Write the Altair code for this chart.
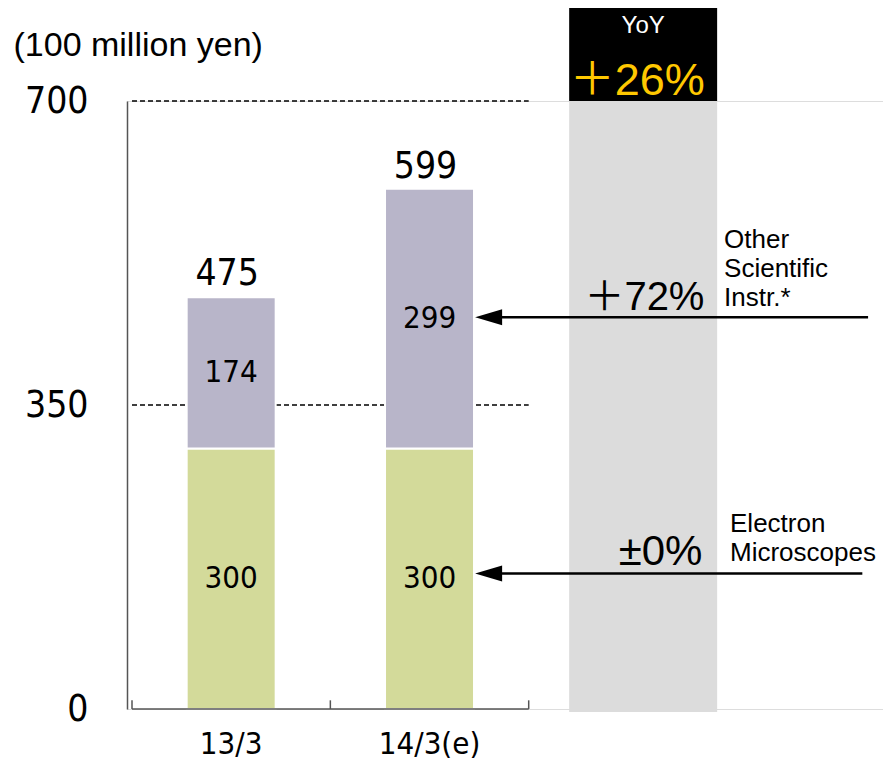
import altair as alt
import pandas as pd

# ---------------- data ----------------
categories = ["13/3", "14/3(e)"]
cat_pos = [0.5, 1.5]
electron = [300, 300]
other = [174, 299]
totals = [475, 599]
y_ticks = [0, 350, 700]
grid_values = [350, 700]
segment_names = ["Electron Microscopes", "Other Scientific Instr."]
segment_colors = ["#d3da9a", "#b8b5c9"]
boundaries = [0, 1, 2]

yoy_title = "YoY"
yoy_total = "＋26%"
yoy_segments = ["±0%", "＋72%"]
segment_labels = ["Electron\nMicroscopes", "Other\nScientific\nInstr.*"]

# annotation anchors (data units)
x_max = 3.761
col_x = [2.204, 2.950]
col_y = [-3.5, 700, 807]
arrow_y = [156, 451]
arrow_head_x = 1.798
arrow_end_x = [3.682, 3.711]
pct_x = [2.876, 2.886]
pct_y = [165.7, 459]
pct_size = [42, 40]
label_x = [3.015, 2.985]
label_y = [203.7, 530.5]
yoy_x = [2.577, 2.547]
yoy_y = [778, 706.6]
yoy_size = [24, 45]
tick_len = 10

NARROW = "DejaVu Sans Condensed"
SANS = "Liberation Sans, Noto Sans CJK JP, sans-serif"

# ---------------- tables ----------------
rows = []
for i, c in enumerate(categories):
    base = 0
    for name, vals in zip(segment_names, [electron, other]):
        v = vals[i]
        rows.append(dict(cat=c, xp=cat_pos[i], seg=name, v=v, y0=base, y1=base + v, ym=base + v / 2))
        base += v
bars_df = pd.DataFrame(rows)
tot_df = pd.DataFrame(dict(xp=cat_pos, total=totals))
cat_df = pd.DataFrame(dict(xp=cat_pos, cat=categories, y=[0] * len(categories)))
grid_df = pd.DataFrame(dict(y=grid_values, x0=[boundaries[0]] * 2, x1=[boundaries[-1]] * 2))
tick_df = pd.DataFrame(dict(x=boundaries, y0=[0] * 3, y1=[tick_len] * 3))
axis_df = pd.DataFrame(dict(x0=[boundaries[0]], x1=[boundaries[-1]], y=[0]))
col_df = pd.DataFrame(dict(x0=[col_x[0]] * 2, x1=[col_x[1]] * 2, y0=col_y[:2], y1=col_y[1:],
                           fill=["#dcdcdc", "#000000"]))
arrow_df = pd.DataFrame(dict(y=arrow_y, x0=[arrow_head_x] * 2, x1=arrow_end_x))
pct_df = pd.DataFrame(dict(x=pct_x, y=pct_y, t=yoy_segments, s=pct_size))
lab_df = pd.DataFrame(dict(x=label_x, y=label_y, t=segment_labels))
yoy_df = pd.DataFrame(dict(x=yoy_x, y=yoy_y, t=[yoy_title, yoy_total], c=["#ffffff", "#ffc800"],
                           s=yoy_size))

# ---------------- encodings ----------------
xscale = alt.Scale(domain=[0, x_max], nice=False, zero=False)
yscale = alt.Scale(domain=[0, 700], nice=False, zero=False)

y_axis = alt.Axis(values=y_ticks, title="(100 million yen)", titleAngle=0, titleX=-114, titleY=-46,
                  titleAlign="left", titleBaseline="alphabetic", titleFont=SANS, titleFontSize=34,
                  titleFontWeight="normal", titleColor="black", labelFont=NARROW, labelFontSize=37,
                  labelPadding=39, labelColor="black", ticks=False, grid=False, domain=True,
                  domainColor="#555555", domainWidth=1.5)


def X(f):
    return alt.X(f, type="quantitative", scale=xscale, axis=None)


def Y(f):
    return alt.Y(f, type="quantitative", scale=yscale, axis=y_axis)


column = alt.Chart(col_df).mark_rect().encode(
    x=X("x0"), x2="x1", y=Y("y0"), y2="y1", fill=alt.Fill("fill:N", scale=None))

grid = alt.Chart(grid_df).mark_rule(color="black", strokeWidth=1.3, strokeDash=[5, 3]).encode(
    x=X("x0"), x2="x1", y=Y("y"))

bars = alt.Chart(bars_df).mark_bar(size=89, stroke="white", strokeWidth=2).encode(
    x=X("xp"), y=Y("y0"), y2="y1",
    fill=alt.Fill("seg:N", scale=alt.Scale(domain=segment_names, range=segment_colors), legend=None))

inner = alt.Chart(bars_df).mark_text(font=NARROW, fontSize=31, baseline="middle", color="black").encode(
    x=X("xp"), y=Y("ym"), text="v:Q")

top = alt.Chart(tot_df).mark_text(font=NARROW, fontSize=37, baseline="alphabetic", dy=-11, dx=-4,
                                  color="black").encode(x=X("xp"), y=Y("total"), text="total:Q")

cats = alt.Chart(cat_df).mark_text(font=NARROW, fontSize=31, baseline="alphabetic", dy=45,
                                   color="black").encode(x=X("xp"), y=Y("y"), text="cat:N")

xaxis_line = alt.Chart(axis_df).mark_rule(color="#555555", strokeWidth=1.5).encode(
    x=X("x0"), x2="x1", y=Y("y"))
ticks = alt.Chart(tick_df).mark_rule(color="#555555", strokeWidth=1.5).encode(
    x=X("x"), y=Y("y0"), y2="y1")

arrows = alt.Chart(arrow_df).mark_rule(color="black", strokeWidth=2.5).encode(
    x=X("x0"), x2="x1", y=Y("y"))
heads = alt.Chart(arrow_df).mark_point(shape="M -1 0 L 1 -0.6 L 1 0.6 Z", size=729, filled=True,
                                       color="black", opacity=1).encode(x=X("x0"), y=Y("y"))

pct = alt.Chart(pct_df).mark_text(font=SANS, align="right", baseline="alphabetic",
                                  color="black").encode(x=X("x"), y=Y("y"), text="t:N",
                                                        size=alt.Size("s:Q", scale=None))

labs = alt.Chart(lab_df).mark_text(font=SANS, fontSize=26, align="left", baseline="alphabetic",
                                   lineBreak="\n", lineHeight=29, color="black").encode(
    x=X("x"), y=Y("y"), text="t:N")

yoy = alt.Chart(yoy_df).mark_text(font=SANS, align="center", baseline="alphabetic").encode(
    x=X("x"), y=Y("y"), text="t:N", color=alt.Color("c:N", scale=None),
    size=alt.Size("s:Q", scale=None))

chart = alt.layer(column, grid, bars, inner, top, cats, xaxis_line, ticks, arrows, heads, pct, labs,
                  yoy).properties(
    width=756, height=608,
    autosize=alt.AutoSizeParams(type="none"),
    padding={"left": 127, "top": 101, "right": 0, "bottom": 53},
).configure_view(stroke=None).configure(background="white")

chart.save("out.html", embed_options={"renderer": "svg", "actions": False})
